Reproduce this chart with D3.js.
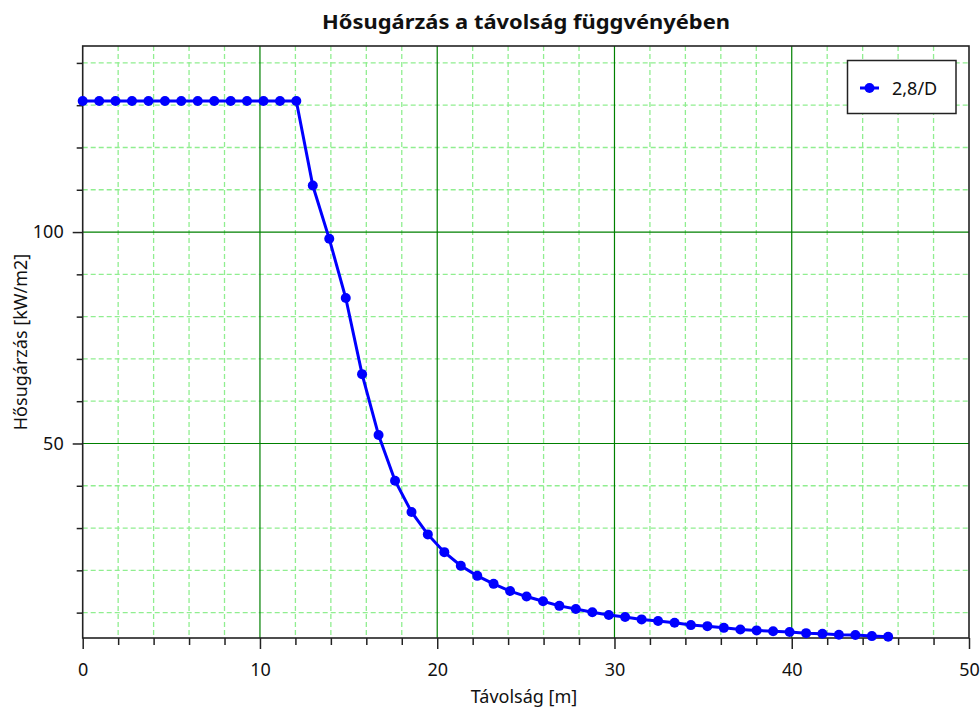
<!DOCTYPE html>
<html>
<head>
<meta charset="utf-8">
<script src="https://cdn.jsdelivr.net/npm/d3@7"></script>
<style>
  html, body { margin: 0; padding: 0; background: #fff; }
  svg { display: block; }
  text { font-family: "Noto Sans", "Open Sans", sans-serif; fill: #111; }
</style>
</head>
<body>
<svg id="chart" width="980" height="708"></svg>
<script>
// ---- data ----
const title = "Hősugárzás a távolság függvényében";
const xTitle = "Távolság [m]";
const yTitle = "Hősugárzás [kW/m2]";
const seriesName = "2,8/D";

const distances = [0, 0.93, 1.85, 2.78, 3.71, 4.64, 5.56, 6.49, 7.42, 8.35,
  9.27, 10.2, 11.13, 12.05, 12.98, 13.91, 14.84, 15.76, 16.69, 17.62,
  18.55, 19.47, 20.4, 21.33, 22.26, 23.18, 24.11, 25.04, 25.97, 26.89,
  27.82, 28.75, 29.68, 30.6, 31.53, 32.46, 33.39, 34.31, 35.24, 36.17,
  37.1, 38.02, 38.95, 39.88, 40.81, 41.73, 42.66, 43.59, 44.52, 45.44];
const radiation = [131, 131, 131, 131, 131, 131, 131, 131, 131, 131,
  131, 131, 131, 131, 111, 98.4, 84.4, 66.4, 52, 41.2,
  33.8, 28.5, 24.3, 21.1, 18.7, 16.8, 15.1, 13.8, 12.7, 11.6,
  10.85, 10.1, 9.45, 8.95, 8.4, 8.0, 7.6, 7.05, 6.8, 6.4,
  6.0, 5.8, 5.6, 5.4, 5.15, 5.0, 4.75, 4.7, 4.45, 4.3];

const xDomain = [0, 50];
const yDomain = [4, 144];
const xMajorTicks = [0, 10, 20, 30, 40, 50];
const xMinorTicks = [2, 4, 6, 8, 12, 14, 16, 18, 22, 24, 26, 28, 32, 34, 36, 38, 42, 44, 46, 48];
const yMajorTicks = [50, 100];
const yMinorTicks = [10, 20, 30, 40, 60, 70, 80, 90, 110, 120, 130, 140];

// ---- layout ----
const svg = d3.select("#chart");
const L = 82.7, R = 969, T = 46, B = 638;
const x = d3.scaleLinear().domain(xDomain).range([L, R]);
const y = d3.scaleLinear().domain(yDomain).range([B, T]);

// minor grid
const g = svg.append("g");
g.selectAll(".vmin").data(xMinorTicks).join("line")
  .attr("x1", d => x(d)).attr("x2", d => x(d)).attr("y1", T).attr("y2", B)
  .attr("stroke", "#90ee90").attr("stroke-width", 1.3).attr("stroke-dasharray", "5,3");
g.selectAll(".hmin").data(yMinorTicks).join("line")
  .attr("y1", d => y(d)).attr("y2", d => y(d)).attr("x1", L).attr("x2", R)
  .attr("stroke", "#90ee90").attr("stroke-width", 1.3).attr("stroke-dasharray", "5,3");
// major grid
g.selectAll(".vmaj").data(xMajorTicks.filter(d => d > xDomain[0] && d < xDomain[1])).join("line")
  .attr("x1", d => x(d)).attr("x2", d => x(d)).attr("y1", T).attr("y2", B)
  .attr("stroke", "#008000").attr("stroke-width", 1.2);
g.selectAll(".hmaj").data(yMajorTicks).join("line")
  .attr("y1", d => y(d)).attr("y2", d => y(d)).attr("x1", L).attr("x2", R)
  .attr("stroke", "#008000").attr("stroke-width", 1.2);

// axes
const xAxisMajor = d3.axisBottom(x).tickValues(xMajorTicks).tickSize(11).tickPadding(14).tickFormat(d3.format("d"));
const xAxisMinor = d3.axisBottom(x).tickValues(xMinorTicks).tickSize(7).tickFormat("");
const yAxisMajor = d3.axisLeft(y).tickValues(yMajorTicks).tickSize(10).tickPadding(9).tickFormat(d3.format("d"));
const yAxisMinor = d3.axisLeft(y).tickValues(yMinorTicks).tickSize(6).tickFormat("");

function styleAxis(sel) {
  sel.select(".domain").remove();
  sel.selectAll("line").attr("stroke", "#222").attr("stroke-width", 1.5);
  sel.selectAll("text").style("font-size", "18px").style("fill", "#111")
     .style("font-family", "'Noto Sans', 'Open Sans', sans-serif");
}
svg.append("g").attr("transform", `translate(0,${B})`).call(xAxisMinor).call(styleAxis);
svg.append("g").attr("transform", `translate(0,${B})`).call(xAxisMajor).call(styleAxis);
svg.append("g").attr("transform", `translate(${L},0)`).call(yAxisMinor).call(styleAxis);
svg.append("g").attr("transform", `translate(${L},0)`).call(yAxisMajor).call(styleAxis);

// frame
svg.append("rect").attr("x", L).attr("y", T).attr("width", R - L).attr("height", B - T)
  .attr("fill", "none").attr("stroke", "#222").attr("stroke-width", 1.6);

// series
const pts = distances.map((d, i) => [d, radiation[i]]);
const line = d3.line().x(d => x(d[0])).y(d => y(d[1]));
svg.append("path").datum(pts).attr("d", line)
  .attr("fill", "none").attr("stroke", "#0000ff").attr("stroke-width", 3);
svg.append("g").selectAll("circle").data(pts).join("circle")
  .attr("cx", d => x(d[0])).attr("cy", d => y(d[1])).attr("r", 5)
  .attr("fill", "#0000ff");

// title
svg.append("text").attr("x", 526).attr("y", 29).attr("text-anchor", "middle")
  .style("font-size", "19px").style("font-weight", "bold")
  .attr("textLength", 408).attr("lengthAdjust", "spacingAndGlyphs")
  .text(title);

// axis titles
svg.append("text").attr("x", 524).attr("y", 703).attr("text-anchor", "middle")
  .style("font-size", "18px").text(xTitle);
svg.append("text").attr("transform", "translate(27,342) rotate(-90)")
  .attr("text-anchor", "middle").style("font-size", "18px").text(yTitle);

// legend
const lg = svg.append("g");
lg.append("rect").attr("x", 847.5).attr("y", 60.5).attr("width", 108.5).attr("height", 53)
  .attr("fill", "#fff").attr("stroke", "#222").attr("stroke-width", 1.5);
lg.append("line").attr("x1", 860).attr("x2", 879).attr("y1", 88).attr("y2", 88)
  .attr("stroke", "#0000ff").attr("stroke-width", 3);
lg.append("circle").attr("cx", 869.5).attr("cy", 88).attr("r", 5).attr("fill", "#0000ff");
lg.append("text").attr("x", 892).attr("y", 95).style("font-size", "18px").text(seriesName);
</script>
</body>
</html>
